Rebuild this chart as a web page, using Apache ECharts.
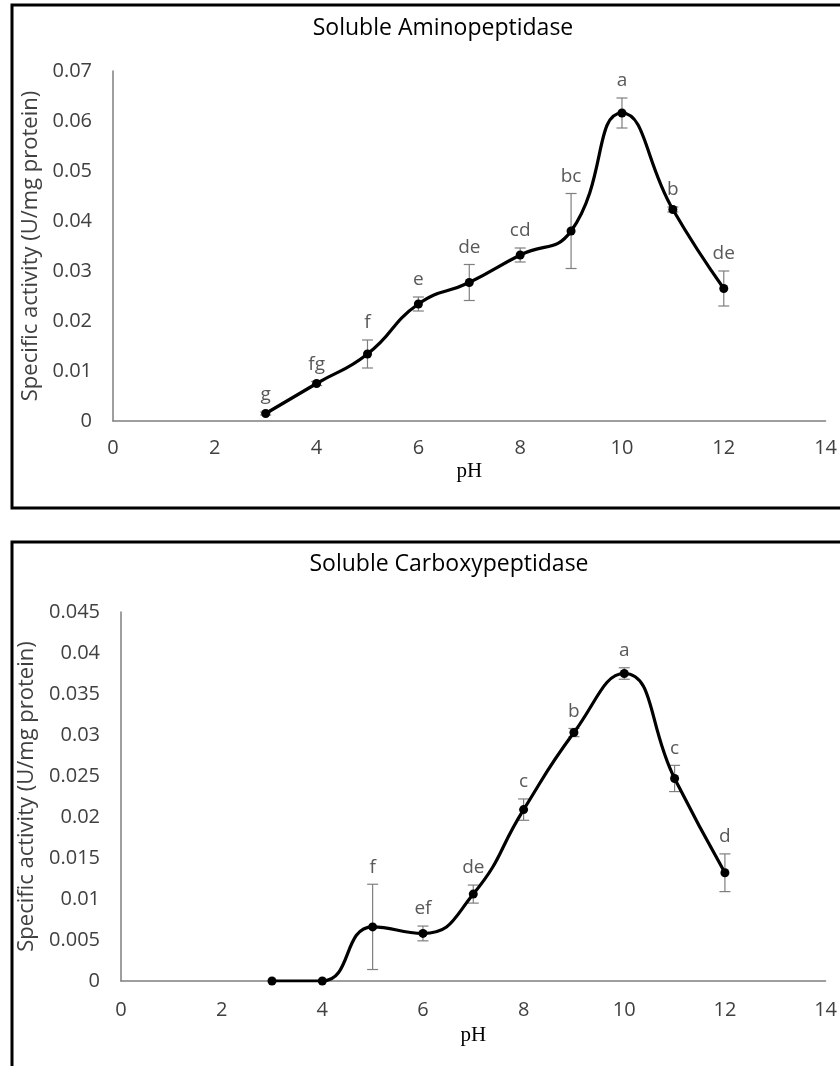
<!DOCTYPE html>
<html>
<head>
<meta charset="utf-8">
<script src="https://cdn.jsdelivr.net/npm/echarts@6/dist/echarts.min.js"></script>
<style>
  html, body { margin: 0; padding: 0; background: #fff; }
  #chart { width: 840px; height: 1066px; }
</style>
</head>
<body>
<div id="chart"></div>
<script>
// ---- data ----
const phValues = [3, 4, 5, 6, 7, 8, 9, 10, 11, 12];
const xTicks = [0, 2, 4, 6, 8, 10, 12, 14];

const aminoActivity = [0.0015, 0.0075, 0.0134, 0.0234, 0.0277, 0.0332, 0.0380, 0.0616, 0.0423, 0.0265];
const aminoError    = [0.0003, 0.0004, 0.0028, 0.0014, 0.0036, 0.0014, 0.0075, 0.0030, 0.0005, 0.0035];
const aminoLetters  = ['g', 'fg', 'f', 'e', 'de', 'cd', 'bc', 'a', 'b', 'de'];
const aminoYTicks   = [0, 0.01, 0.02, 0.03, 0.04, 0.05, 0.06, 0.07];

const carboxyActivity = [0, 0, 0.0066, 0.0058, 0.0106, 0.0209, 0.0303, 0.0375, 0.0247, 0.0132];
const carboxyError    = [0, 0, 0.0052, 0.0009, 0.0011, 0.0013, 0.0005, 0.0007, 0.0016, 0.0023];
const carboxyLetters  = ['', '', 'f', 'ef', 'de', 'c', 'b', 'a', 'c', 'd'];
const carboxyYTicks   = [0, 0.005, 0.01, 0.015, 0.02, 0.025, 0.03, 0.035, 0.04, 0.045];

const titles = ['Soluble Aminopeptidase', 'Soluble Carboxypeptidase'];
const yName = 'Specific activity (U/mg protein)';
const xName = 'pH';

// ---- build ----
const SANS = "'Open Sans', 'Noto Sans', sans-serif";
const SERIF = "'Liberation Serif', 'DejaVu Serif', serif";

function pairs(xs, ys) { return xs.map((x, i) => [x, ys[i]]); }
function errData(xs, ys, es) { return xs.map((x, i) => [x, ys[i] - es[i], ys[i] + es[i]]); }

function makeErrRender(letters) {
  return function (params, api) {
    const x = api.value(0), lo = api.value(1), hi = api.value(2);
    const pLo = api.coord([x, lo]);
    const pHi = api.coord([x, hi]);
    const cap = 5.5;
    const st = { stroke: '#7f7f7f', lineWidth: 1.2 };
    const children = [];
    if (Math.abs(pLo[1] - pHi[1]) > 0.5) {
      children.push({ type: 'line', shape: { x1: pLo[0], y1: pLo[1], x2: pHi[0], y2: pHi[1] }, style: st });
      children.push({ type: 'line', shape: { x1: pHi[0] - cap, y1: pHi[1], x2: pHi[0] + cap, y2: pHi[1] }, style: st });
      children.push({ type: 'line', shape: { x1: pLo[0] - cap, y1: pLo[1], x2: pLo[0] + cap, y2: pLo[1] }, style: st });
    }
    const lab = letters[params.dataIndex];
    if (lab) {
      children.push({
        type: 'text',
        style: {
          text: lab, x: pHi[0], y: pHi[1] - 17, align: 'center', verticalAlign: 'middle',
          fill: '#595959', font: '19px ' + SANS
        }
      });
    }
    return { type: 'group', children: children };
  };
}

function fmt(v) { return String(+v.toFixed(3)); }

const option = {
  backgroundColor: '#fff',
  animation: false,
  title: [
    { text: titles[0], left: 438, top: 12, textAlign: 'center',
      textStyle: { fontFamily: SANS, fontSize: 23, fontWeight: 'normal', color: '#000' } },
    { text: titles[1], left: 444, top: 548, textAlign: 'center',
      textStyle: { fontFamily: SANS, fontSize: 23, fontWeight: 'normal', color: '#000' } }
  ],
  graphic: [
    { type: 'rect', shape: { x: 12, y: 5, width: 900, height: 503 },
      style: { fill: 'none', stroke: '#000', lineWidth: 3 }, silent: true },
    { type: 'rect', shape: { x: 12, y: 542, width: 900, height: 600 },
      style: { fill: 'none', stroke: '#000', lineWidth: 3 }, silent: true }
  ],
  grid: [
    { left: 113, right: 14, top: 71, bottom: 645 },
    { left: 121, right: 13, top: 612, bottom: 85 }
  ],
  xAxis: [0, 1].map(i => ({
    type: 'value', gridIndex: i, min: xTicks[0], max: xTicks[xTicks.length - 1], interval: 2,
    name: xName, nameLocation: 'middle', nameGap: i === 0 ? 40 : 44,
    nameTextStyle: { fontFamily: SERIF, fontSize: 21, color: '#000' },
    axisLine: { show: true, lineStyle: { color: '#7f7f7f', width: 1.5 } },
    axisTick: { show: false },
    splitLine: { show: false },
    axisLabel: { margin: i === 0 ? 17 : 19, fontFamily: SANS, fontSize: 20, color: '#404040' }
  })),
  yAxis: [
    {
      type: 'value', gridIndex: 0, min: aminoYTicks[0], max: aminoYTicks[aminoYTicks.length - 1], interval: 0.01,
      name: yName, nameLocation: 'middle', nameGap: 68, nameRotate: 90,
      nameTextStyle: { fontFamily: SANS, fontSize: 22, color: '#404040' },
      axisLine: { show: true, lineStyle: { color: '#7f7f7f', width: 1.5 } },
      axisTick: { show: false }, splitLine: { show: false },
      axisLabel: { margin: 21, fontFamily: SANS, fontSize: 20, color: '#404040', formatter: fmt }
    },
    {
      type: 'value', gridIndex: 1, min: carboxyYTicks[0], max: carboxyYTicks[carboxyYTicks.length - 1], interval: 0.005,
      name: yName, nameLocation: 'middle', nameGap: 77, nameRotate: 90,
      nameTextStyle: { fontFamily: SANS, fontSize: 22, color: '#404040' },
      axisLine: { show: true, lineStyle: { color: '#7f7f7f', width: 1.5 } },
      axisTick: { show: false }, splitLine: { show: false },
      axisLabel: { margin: 21, fontFamily: SANS, fontSize: 20, color: '#404040', formatter: fmt }
    }
  ],
  series: [
    {
      type: 'custom', xAxisIndex: 0, yAxisIndex: 0, z: 1,
      renderItem: makeErrRender(aminoLetters),
      data: errData(phValues, aminoActivity, aminoError)
    },
    {
      type: 'line', xAxisIndex: 0, yAxisIndex: 0, z: 3, smooth: 0.5,
      data: pairs(phValues, aminoActivity),
      symbol: 'circle', symbolSize: 9,
      itemStyle: { color: '#000' },
      lineStyle: { color: '#000', width: 3.2 }
    },
    {
      type: 'custom', xAxisIndex: 1, yAxisIndex: 1, z: 1,
      renderItem: makeErrRender(carboxyLetters),
      data: errData(phValues, carboxyActivity, carboxyError)
    },
    {
      type: 'line', xAxisIndex: 1, yAxisIndex: 1, z: 3, smooth: 0.5,
      data: pairs(phValues, carboxyActivity),
      symbol: 'circle', symbolSize: 9,
      itemStyle: { color: '#000' },
      lineStyle: { color: '#000', width: 3.2 }
    }
  ]
};

const chart = echarts.init(document.getElementById('chart'), null, { renderer: 'canvas' });
chart.setOption(option);
</script>
</body>
</html>
